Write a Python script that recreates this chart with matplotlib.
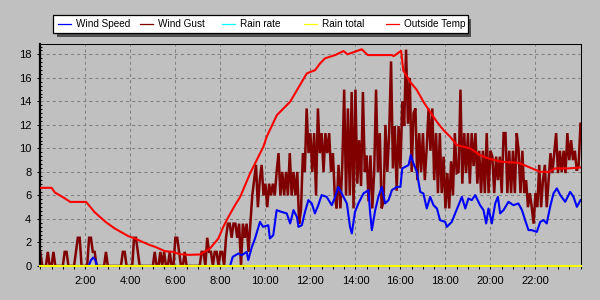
import numpy as np
import matplotlib
matplotlib.use("Agg")
import matplotlib.pyplot as plt
from matplotlib.ticker import MultipleLocator, FixedLocator, FixedFormatter
from matplotlib.patches import Rectangle
from matplotlib.lines import Line2D

plt.rcParams['lines.scale_dashes'] = False

# ---------------- data ----------------
series_names = ["Wind Speed", "Wind Gust", "Rain rate", "Rain total", "Outside Temp"]
series_colors = ["#0000ff", "#800000", "#00ffff", "#ffff00", "#ff0000"]

x_tick_hours = [2, 4, 6, 8, 10, 12, 14, 16, 18, 20, 22]
x_tick_labels = ["2:00", "4:00", "6:00", "8:00", "10:00", "12:00", "14:00",
                 "16:00", "18:00", "20:00", "22:00"]
y_ticks = [0, 2, 4, 6, 8, 10, 12, 14, 16, 18]

temp_hours = [0, 0.5, 0.65, 1.05, 1.33, 2.04, 2.4, 2.9, 3.3, 3.9, 4.25, 4.43, 4.88,
              5.1, 5.54, 5.9, 6.2, 6.6, 7.1, 7.54, 7.91, 8.13, 8.36, 8.65, 8.88,
              9.32, 9.91, 10.06, 10.51, 11.1, 11.84, 12.21, 12.43, 12.65, 13.1, 13.47,
              13.65, 14.28, 14.55, 15.62, 15.7, 16.03, 16.13, 16.21, 16.43, 16.73,
              17.02, 17.32, 17.62, 17.91, 18.21, 18.51, 19.1, 19.54, 19.9, 20.5,
              21.24, 21.69, 22.2, 22.58, 22.88, 23.47, 24.0]
temp_values = [6.65, 6.65, 6.25, 5.8, 5.45, 5.45, 4.6, 3.75, 3.2, 2.55, 2.3, 2.14, 1.77,
               1.63, 1.26, 1.2, 1.0, 0.95, 0.98, 1.49, 2.34, 3.33, 4.18, 5.17, 5.88,
               7.87, 10.14, 11.0, 12.83, 13.97, 16.38, 16.66, 17.23, 17.66, 17.94, 18.28,
               18.0, 18.43, 17.94, 17.94, 17.85, 18.3, 16.6, 16.38, 15.67, 14.96,
               13.97, 13.1, 12.26, 11.56, 10.99, 10.28, 10.0, 9.43, 9.15, 8.86,
               8.78, 8.43, 8.01, 8.0, 8.3, 8.3, 8.38]

speed_hours = [0, 2.15, 2.25, 2.35, 2.45, 2.52, 8.43, 8.55, 8.8, 8.95, 9.17, 9.24, 9.4,
               9.54, 9.76, 9.9, 10.13, 10.2, 10.35, 10.5, 10.72, 10.95, 11.1, 11.25,
               11.4, 11.47, 11.62, 11.76, 11.91, 12.06, 12.2, 12.35, 12.5, 12.72, 12.95,
               13.1, 13.24, 13.47, 13.62, 13.76, 13.84, 13.98, 14.13, 14.36, 14.58,
               14.65, 14.73, 14.88, 15.02, 15.17, 15.32, 15.47, 15.62, 15.84, 16.0,
               16.08, 16.21, 16.36, 16.46, 16.58, 16.73, 16.88, 17.02, 17.17, 17.32,
               17.47, 17.62, 17.76, 17.99, 18.06, 18.28, 18.43, 18.58, 18.73, 18.88,
               19.02, 19.17, 19.32, 19.54, 19.69, 19.81, 19.91, 20.0, 20.06, 20.21,
               20.33, 20.43, 20.58, 20.8, 21.02, 21.24, 21.4, 21.54, 21.69, 21.84,
               22.06, 22.21, 22.36, 22.5, 22.65, 22.8, 22.95, 23.1, 23.32, 23.54,
               23.69, 23.84, 24.0]
speed_values = [0, 0, 0.5, 0.72, 0.5, 0, 0, 0.78, 1.06, 0.92, 1.2, 0.5, 1.63,
                2.34, 3.75, 3.33, 3.47, 2.34, 2.62, 4.75, 4.6, 4.47, 3.62, 4.75,
                4.18, 3.33, 3.47, 4.6, 5.6, 5.32, 4.47, 5.17, 6.03, 5.88, 5.17,
                5.88, 6.73, 5.88, 5.32, 3.33, 2.77, 4.6, 5.32, 6.17, 6.45,
                4.6, 3.05, 4.75, 5.88, 6.73, 5.32, 5.6, 6.45, 6.73, 6.73,
                8.3, 8.43, 8.58, 9.43, 8.72, 8.0, 6.3, 6.17, 4.89, 5.88,
                5.17, 4.89, 3.9, 3.75, 3.33, 3.75, 4.47, 5.17, 5.88, 4.89,
                5.74, 5.6, 6.03, 5.17, 4.75, 3.62, 4.89, 4.18, 3.62, 5.32,
                5.88, 4.47, 4.75, 5.46, 5.17, 5.32, 4.75, 3.9, 3.05, 3.05,
                2.9, 3.75, 3.9, 3.62, 5.03, 6.17, 6.6, 6.03, 5.46, 6.3,
                5.88, 5.03, 5.6]

# wind gust, one reading every 5 minutes from 0:00 (one row per hour)
gust_step_minutes = 5
gust_values = [
    1.2, 0, 0, 0, 1.2, 0, 0, 1.2, 0, 0, 0, 0,
    0, 1.2, 1.2, 0, 0, 0, 0, 1.2, 2.4, 2.4, 0, 0,
    0, 0, 2.4, 2.4, 1.2, 1.2, 0, 0, 0, 0, 0, 1.2,
    0, 0, 0, 0, 0, 0, 0, 0, 1.2, 1.2, 0, 0,
    0, 0, 2.4, 2.4, 1.2, 0, 0, 0, 0, 0, 0, 0,
    0, 1.2, 0, 0, 1.2, 0, 1.2, 0, 0, 1.2, 0, 0,
    2.4, 2.4, 1.2, 0, 0, 1.2, 0, 0, 0, 0, 0, 0,
    0, 0, 1.2, 1.2, 0, 2.4, 1.2, 1.2, 0, 1.2, 1.2, 0,
    1.2, 1.2, 0, 2.4, 3.6, 3.6, 2.4, 3.6, 3.6, 2.4, 3.6, 0,
    3.6, 2.4, 3.6, 1.2, 3.6, 6.0, 7.3, 8.6, 5.0, 7.3, 8.6, 6.0,
    7.0, 5.0, 7.0, 6.0, 7.0, 6.0, 8.0, 9.6, 6.0, 8.0, 6.0, 8.0,
    6.0, 9.6, 6.0, 8.0, 6.0, 8.0, 3.6, 4.8, 9.6, 8.0, 13.4, 9.6,
    11.3, 8.0, 11.3, 6.0, 13.4, 9.6, 11.3, 8.0, 11.3, 9.6, 11.3, 8.0,
    9.6, 6.0, 4.9, 8.6, 4.9, 8.6, 15.0, 6.0, 13.4, 6.0, 14.8, 4.9,
    15.0, 7.0, 10.7, 6.8, 14.8, 8.0, 9.4, 5.5, 9.4, 4.9, 8.0, 15.0,
    8.0, 11.3, 4.9, 5.5, 12.0, 8.0, 11.3, 17.4, 8.3, 11.9, 6.4, 11.9,
    8.3, 14.0, 11.9, 18.4, 12.1, 16.0, 8.0, 13.0, 13.4, 7.3, 11.3, 8.0,
    11.3, 7.3, 10.0, 13.4, 9.8, 13.4, 7.3, 11.3, 6.2, 11.3, 6.2, 9.3,
    4.9, 7.9, 4.9, 8.9, 6.0, 11.3, 7.9, 8.0, 15.0, 7.0, 11.3, 7.9,
    11.3, 7.0, 11.3, 8.5, 11.3, 7.0, 9.8, 6.2, 9.8, 6.2, 11.3, 6.2,
    9.8, 9.3, 6.2, 9.3, 7.3, 9.3, 6.2, 11.3, 11.3, 6.2, 9.8, 6.2,
    9.8, 6.2, 11.3, 9.8, 6.2, 9.8, 6.2, 7.3, 5.0, 6.2, 5.0, 3.6,
    6.2, 5.0, 8.6, 5.0, 7.3, 8.6, 5.0, 7.3, 9.6, 7.9, 9.6, 11.3,
    7.9, 9.8, 8.0, 9.8, 7.9, 11.3, 9.0, 10.7, 9.0, 9.8, 8.1, 8.6,
    12.1,
]

rain_hours = [0, 24]
rain_rate = [0, 0]
rain_total = [0, 0]

# ---------------- figure ----------------
W, H = 600, 300
BG = "#c0c0c0"
fig = plt.figure(figsize=(6, 3), dpi=100, facecolor=BG)


def fx(px):
    return px / W


def fy(py):
    return 1 - py / H


ax_l, ax_r, ax_t, ax_b = 40.3, 580.5, 44, 266
ax = fig.add_axes([fx(ax_l), fy(ax_b), fx(ax_r) - fx(ax_l), fy(ax_t) - fy(ax_b)])
ax.set_facecolor(BG)

gust_hours = np.arange(len(gust_values)) * gust_step_minutes / 60.0

ax.plot(gust_hours, gust_values, color=series_colors[1], lw=1.8, zorder=2,
        solid_joinstyle="miter")
ax.plot(speed_hours, speed_values, color=series_colors[0], lw=1.5, zorder=3)
ax.plot(rain_hours, rain_rate, color=series_colors[2], lw=1.5, zorder=4, clip_on=False)
ax.plot(rain_hours, rain_total, color=series_colors[3], lw=1.5, zorder=5, clip_on=False)
ax.plot(temp_hours, temp_values, color=series_colors[4], lw=1.5, zorder=6)

ax.set_xlim(0, 24)
ax.set_ylim(0, 18.88)

ax.xaxis.set_major_locator(FixedLocator(x_tick_hours))
ax.xaxis.set_major_formatter(FixedFormatter(x_tick_labels))
ax.xaxis.set_minor_locator(MultipleLocator(0.5))
ax.yaxis.set_major_locator(FixedLocator(y_ticks))
ax.yaxis.set_minor_locator(MultipleLocator(1 / 3))

for lab in ax.get_xticklabels() + ax.get_yticklabels():
    lab.set_fontfamily("Liberation Sans")
    lab.set_fontsize(8)

ax.tick_params(axis="x", which="both", direction="out", length=2.5, width=0.75,
               color="black", pad=4.5, labelsize=8)
ax.tick_params(axis="y", which="major", direction="out", length=2.5, width=0.75,
               color="black", pad=4, labelsize=8)
ax.tick_params(axis="y", which="minor", direction="in", length=1.5, width=0.75,
               color="black")

ax.grid(True, which="major", color="#808080", linestyle=(0, (2.2, 2.2)),
        linewidth=0.75, zorder=1)
ax.set_axisbelow(True)

for side in ["top", "right", "bottom"]:
    ax.spines[side].set_linewidth(0.75)
    ax.spines[side].set_color("black")
ax.spines["left"].set_linewidth(1.6)
ax.spines["left"].set_color("black")

# ---------------- legend ----------------
lg_l, lg_r, lg_t, lg_b = 53.3, 467.7, 15.3, 33.0
shadow = Rectangle((fx(lg_l + 3.5), fy(lg_b + 3.5)), fx(lg_r - lg_l), fy(lg_t) - fy(lg_b),
                   transform=fig.transFigure, facecolor="#505050", edgecolor="none",
                   zorder=10)
box = Rectangle((fx(lg_l), fy(lg_b)), fx(lg_r - lg_l), fy(lg_t) - fy(lg_b),
                transform=fig.transFigure, facecolor="white", edgecolor="black",
                linewidth=0.9, zorder=11)
fig.add_artist(shadow)
fig.add_artist(box)

y_mid = 24.2
for k, (name, col) in enumerate(zip(series_names, series_colors)):
    x0 = 58.3 + 82 * k
    fig.add_artist(Line2D([fx(x0), fx(x0 + 12.5)], [fy(y_mid), fy(y_mid)],
                          transform=fig.transFigure, color=col, lw=0.9, zorder=12))
    fig.text(fx(x0 + 17.4), fy(y_mid), name, ha="left", va="center",
             fontsize=7.2, family="Liberation Sans", color="black", zorder=12)

fig.savefig("out.png", dpi=100, facecolor=BG)
